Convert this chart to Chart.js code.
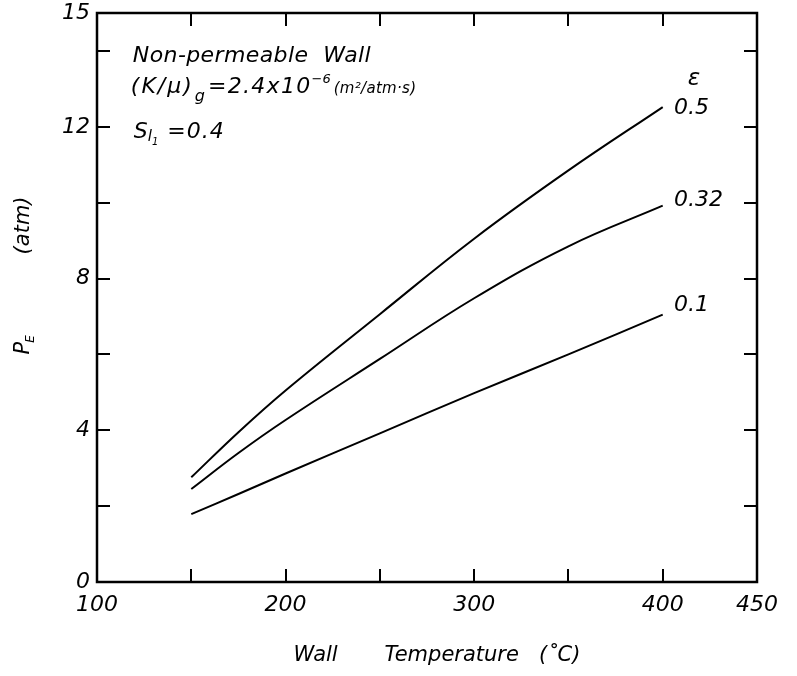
<!DOCTYPE html>
<html><head><meta charset="utf-8">
<script src="https://cdn.jsdelivr.net/npm/chart.js@4.4.1/dist/chart.umd.min.js"></script>
<style>html,body{margin:0;padding:0;background:#fff;}#wrap{width:797px;height:676px;position:relative;}</style>
</head><body><div id="wrap"><canvas id="c" width="797" height="676"></canvas></div>
<script>
// ---- data ----
const temperatures = [150, 175, 200, 250, 300, 350, 400];
const peEps050 = [2.76, 3.95, 5.05, 7.06, 9.05, 10.85, 12.52];
const peEps032 = [2.45, 3.40, 4.27, 5.88, 7.48, 8.85, 9.92];
const peEps010 = [1.79, 2.32, 2.86, 3.92, 4.98, 6.0, 7.05];
const seriesLabels = ['0.5', '0.32', '0.1'];
const seriesLabelY = [12.5, 10.05, 7.3];
const xTickLabels = [100, 200, 300, 400, 450];
const yTickLabels = [0, 4, 8, 12, 15];
const xMinorTicks = [150, 200, 250, 300, 350, 400];
const yMinorTicks = [2, 4, 6, 8, 10, 12, 14];

const FONT = '"DejaVu Sans", "Liberation Sans", sans-serif';
const toPts = arr => temperatures.map((t, i) => ({x: t, y: arr[i]}));
const series = [peEps050, peEps032, peEps010];

const decor = {
  id: 'decor',
  afterDatasetsDraw(chart) {
    const {ctx, chartArea: a, scales: {x, y}} = chart;
    ctx.save();
    ctx.strokeStyle = '#000';
    ctx.fillStyle = '#000';
    // frame
    ctx.lineWidth = 2.5;
    ctx.strokeRect(a.left, a.top, a.right - a.left, a.bottom - a.top);
    // inward ticks
    const L = 13;
    ctx.lineWidth = 2;
    ctx.beginPath();
    xMinorTicks.forEach(v => {
      const px = Math.round(x.getPixelForValue(v));
      ctx.moveTo(px, a.bottom); ctx.lineTo(px, a.bottom - L);
      ctx.moveTo(px, a.top); ctx.lineTo(px, a.top + L);
    });
    yMinorTicks.forEach(v => {
      const py = Math.round(y.getPixelForValue(v));
      ctx.moveTo(a.left, py); ctx.lineTo(a.left + L, py);
      ctx.moveTo(a.right, py); ctx.lineTo(a.right - L, py);
    });
    ctx.stroke();

    const rich = (x0, y0, parts) => {
      let cx = x0;
      ctx.textBaseline = 'alphabetic';
      ctx.textAlign = 'left';
      for (const p of parts) {
        ctx.font = `italic ${p.s}px ${FONT}`;
        ctx.letterSpacing = (p.ls || 0) + 'px';
        ctx.fillText(p.t, cx, y0 + (p.dy || 0));
        cx += ctx.measureText(p.t).width + (p.g || 0);
      }
      ctx.letterSpacing = '0px';
    };
    // annotation block
    const ax = x.getPixelForValue(119);
    const ay = y.getPixelForValue(13.7);
    rich(ax, ay, [{t: 'Non-permeable  Wall', s: 22, ls: 0.4}]);
    rich(ax - 2, ay + 31, [
      {t: '(K/\u03BC)', s: 22, ls: 2, g: 1},
      {t: 'g', s: 16, dy: 8, g: 3},
      {t: '=2.4x10', s: 22, ls: 1.3},
      {t: '\u22126', s: 13, dy: -10, g: 3},
      {t: '(m\u00B2/atm\u00B7s)', s: 15, ls: 0.3}
    ]);
    rich(ax + 1, ay + 76, [
      {t: 'S', s: 22},
      {t: 'l', s: 15, dy: 3},
      {t: '1', s: 10, dy: 7, g: 9},
      {t: '=0.4', s: 22, ls: 1}
    ]);
    // curve labels
    ctx.textBaseline = 'middle';
    ctx.textAlign = 'left';
    ctx.font = `italic 22px ${FONT}`;
    const lx = x.getPixelForValue(406);
    seriesLabels.forEach((s, i) => ctx.fillText(s, lx, y.getPixelForValue(seriesLabelY[i])));
    ctx.font = `italic 23px ${FONT}`;
    ctx.fillText('\u03B5', x.getPixelForValue(413.3), y.getPixelForValue(13.27));

    // y axis title (rotated)
    ctx.save();
    ctx.translate(29, y.getPixelForValue(6.0));
    ctx.rotate(-Math.PI / 2);
    ctx.textBaseline = 'alphabetic';
    ctx.font = `italic 21px ${FONT}`;
    ctx.fillText('P', 0, 0);
    const wp = ctx.measureText('P').width;
    ctx.font = `italic 12px ${FONT}`;
    ctx.fillText('E', wp - 1, 5);
    ctx.font = `italic 21px ${FONT}`;
    ctx.fillText('(atm)', 100, 0);
    ctx.restore();
    ctx.restore();
  }
};

new Chart(document.getElementById('c'), {
  type: 'line',
  data: {
    datasets: series.map((arr, i) => ({
      label: seriesLabels[i],
      data: toPts(arr),
      borderColor: '#000',
      borderWidth: 2,
      pointRadius: 0,
      fill: false,
      tension: 0.4
    }))
  },
  options: {
    responsive: false,
    animation: false,
    devicePixelRatio: 1,
    layout: {padding: {top: 13, right: 40, left: 0, bottom: 0}},
    plugins: {legend: {display: false}, tooltip: {enabled: false}},
    scales: {
      x: {
        type: 'linear', min: 100, max: 450,
        afterBuildTicks: s => { s.ticks = xTickLabels.map(v => ({value: v})); },
        afterFit: s => { s.height = 94; },
        grid: {display: false, drawTicks: false},
        border: {display: false},
        ticks: {color: '#000', padding: 12, maxRotation: 0, autoSkip: false,
                font: {family: FONT, size: 22, style: 'italic', lineHeight: 1}},
        title: {display: true, text: '   Wall       Temperature   (\u02DAC)', color: '#000',
                font: {family: FONT, size: 21, style: 'italic', lineHeight: 1.2},
                padding: {top: 0, bottom: 8}}
      },
      y: {
        type: 'linear', min: 0, max: 15,
        afterBuildTicks: s => { s.ticks = yTickLabels.map(v => ({value: v})); },
        afterFit: s => { s.width = 97; s.paddingTop = 0; s.paddingBottom = 0; },
        grid: {display: false, drawTicks: false},
        border: {display: false},
        ticks: {color: '#000', padding: 7, autoSkip: false,
                font: {family: FONT, size: 22, style: 'italic', lineHeight: 0.5}}
      }
    }
  },
  plugins: [decor]
});
</script>
</body></html>
